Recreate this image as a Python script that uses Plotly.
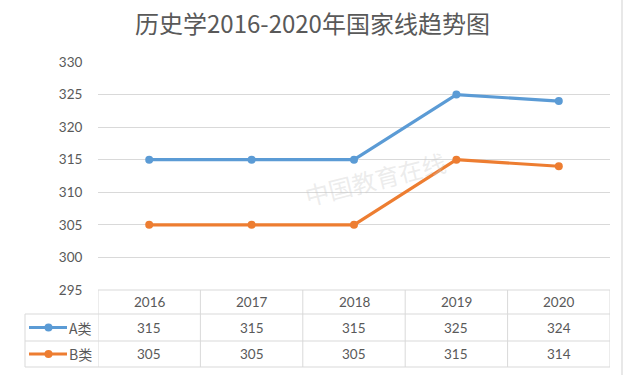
import plotly.graph_objects as go

years = ["2016", "2017", "2018", "2019", "2020"]
series_names = ["A类", "B类"]
a_values = [315, 315, 315, 325, 324]
b_values = [305, 305, 305, 315, 314]
colors = ["#5b9bd5", "#ed7d31"]
y_ticks = [295, 300, 305, 310, 315, 320, 325, 330]
title_text = "历史学2016-2020年国家线趋势图"

W, H = 629, 375
L, R, T, B = 98, 19, 62, 85
PW, PH = W - L - R, H - T - B

def px(x):
    return (x - L) / PW

def py(y):
    return (H - B - y) / PH

fig = go.Figure()
for name, vals, col in zip(series_names, [a_values, b_values], colors):
    fig.add_trace(go.Scatter(x=years, y=vals, name=name, mode="lines+markers",
                             line=dict(color=col, width=3.2),
                             marker=dict(color=col, size=8), showlegend=False))

grid = "#d9d9d9"
txt = "#595959"
num_font = dict(size=13.5, color=txt, family="Lato, Open Sans")
shapes = []
annotations = []

# table horizontal lines
row_y = [290, 314, 341, 367]
for i, yy in enumerate(row_y):
    x0 = px(98) if i == 0 else px(25)
    shapes.append(dict(type="line", xref="paper", yref="paper", x0=x0, x1=1,
                       y0=py(yy), y1=py(yy), line=dict(color=grid, width=1)))
# vertical lines
for k in range(len(years) + 1):
    shapes.append(dict(type="line", xref="x", yref="paper", x0=k - 0.5, x1=k - 0.5,
                       y0=py(290), y1=py(367), line=dict(color=grid, width=1)))
shapes.append(dict(type="line", xref="paper", yref="paper", x0=px(25), x1=px(25),
                   y0=py(314), y1=py(367), line=dict(color=grid, width=1)))
# outer right border
shapes.append(dict(type="line", xref="paper", yref="paper", x0=px(622), x1=px(622),
                   y0=py(0), y1=py(375), line=dict(color="#e0e0e0", width=1.5)))

# header
for i, yr in enumerate(years):
    annotations.append(dict(x=i, y=py(302), xref="x", yref="paper", text=yr,
                            yanchor="middle", showarrow=False, font=num_font))
# rows
row_centers = [327.5, 354]
for name, vals, col, yc in zip(series_names, [a_values, b_values], colors, row_centers):
    for i, v in enumerate(vals):
        annotations.append(dict(x=i, y=py(yc), xref="x", yref="paper", text=str(v),
                                yanchor="middle", showarrow=False, font=num_font))
    shapes.append(dict(type="line", xref="paper", yref="paper", x0=px(29), x1=px(67),
                       y0=py(yc), y1=py(yc), line=dict(color=col, width=3.2)))
    shapes.append(dict(type="circle", xref="paper", yref="paper", x0=px(44.5), x1=px(52.5),
                       y0=py(yc - 4), y1=py(yc + 4), fillcolor=col, line=dict(color=col, width=0)))
    annotations.append(dict(x=px(67), y=py(yc), xref="paper", yref="paper", text=name,
                            xanchor="left", yanchor="middle", showarrow=False,
                            font=dict(size=14, color=txt, family="Noto Sans CJK SC")))

# faint watermark
annotations.append(dict(x=px(375), y=py(178), xref="paper", yref="paper", text="中国教育在线",
                        showarrow=False, textangle=-14,
                        font=dict(size=24, color="rgba(200,200,200,0.35)", family="Noto Sans CJK SC")))

fig.update_layout(
    width=W, height=H,
    margin=dict(l=L, r=R, t=T, b=B),
    paper_bgcolor="white", plot_bgcolor="white",
    title=dict(text=title_text, x=312.5 / W, xref="container", xanchor="center",
               y=1 - 24.5 / H, yref="container", yanchor="middle",
               font=dict(size=24, color=txt, family="Noto Sans CJK SC")),
    xaxis=dict(type="category", range=[-0.5, 4.5], showticklabels=False, showgrid=False,
               zeroline=False, showline=False, ticks=""),
    yaxis=dict(range=[295, 330], tickvals=y_ticks, showgrid=True, gridcolor=grid, gridwidth=1,
               zeroline=False, showline=False, ticks="outside", ticklen=12,
               tickcolor="rgba(0,0,0,0)", tickfont=num_font),
    shapes=shapes, annotations=annotations,
)
fig.write_html("out.html", config={"displayModeBar": False},
               post_script="document.body.style.margin='0';document.body.style.overflow='hidden';")
